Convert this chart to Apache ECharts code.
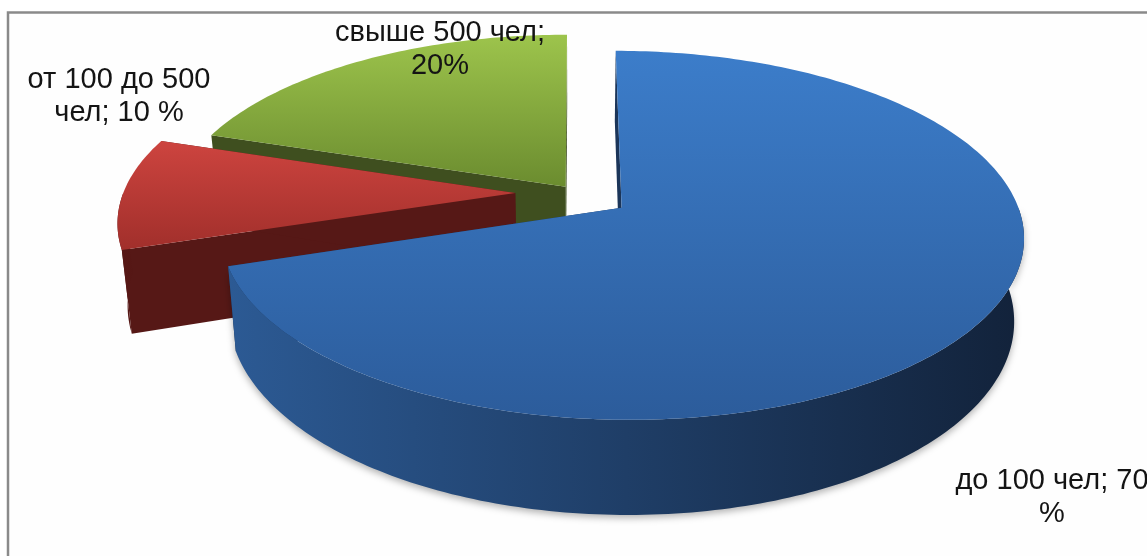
<!DOCTYPE html>
<html>
<head>
    <meta charset="utf-8">
    <title>3D pie</title>
    <script src="https://cdn.jsdelivr.net/npm/echarts@6/dist/echarts.min.js"></script>
    <style>
        html, body { margin: 0; padding: 0; background: #ffffff; }
        #chart { width: 1147px; height: 556px; }
    </style>
</head>
<body>
    <div id="chart"></div>
    <script type="text/javascript">
        // data
        const categories = ['до 100 чел', 'от 100 до 500 чел', 'свыше 500 чел'];
        const shares = [70, 10, 20];
        const labelTexts = ['до 100 чел; 70\n%', 'от 100 до 500\nчел; 10 %', 'свыше 500 чел;\n20%'];

        // layout of the fake 3d disc
        const cx = 576, cy = 193;      // disc centre
        const rx = 392, ry = 176;      // radii
        const depth = 80;              // thickness
        const persp = 0.147;           // near side looks bigger
        const bottomShrink = 0.978;    // bottom face is a bit farther away
        const explode = [0.142, 0.155, 0.045];
        const labelPos = [[1052, 497], [119, 96], [440, 49]];

        // colours: top face (light -> dark), outer wall (left -> right), cut wall
        const topColors = [['#3c7dca', '#2c5c9b'], ['#cd443f', '#a12f2b'], ['#9dc44c', '#6b8c2f']];
        const wallColors = [['#2c5a94', '#12223a'], ['#581816', '#551715'], ['#445623', '#3a4a1c']];
        const cutColors = ['#1b3559', '#561816', '#3f4f1f'];

        const total = shares.reduce((a, b) => a + b, 0);
        const starts = [];
        let acc = 0;
        shares.forEach(v => { starts.push(acc / total * Math.PI * 2); acc += v; });

        // depth rank: slices nearer the viewer are drawn later
        function apexV(i) {
            const mid = starts[i] + shares[i] / total * Math.PI;
            return -explode[i] * Math.cos(mid);
        }
        const order = shares.map((v, i) => i).sort((a, b) => apexV(a) - apexV(b));

        function renderItem(params, api) {
            const i = params.dataIndex;
            const a0 = starts[i];
            const a1 = a0 + api.value(0) / total * Math.PI * 2;
            const mid = (a0 + a1) / 2;
            const eu = explode[i] * Math.sin(mid);
            const ev = -explode[i] * Math.cos(mid);
            const rank = order.indexOf(i);

            function proj(t, r, bottom) {
                const U = eu + r * Math.sin(t);
                const V = ev - r * Math.cos(t);
                const s = 1 / (1 - persp * V);
                const k = bottom ? bottomShrink : 1;
                return [cx + rx * U * s * k, cy + ry * V * s + (bottom ? depth * s : 0)];
            }
            function arc(t0, t1, bottom) {
                const pts = [];
                const n = Math.max(2, Math.ceil((t1 - t0) / (Math.PI / 180)));
                for (let k = 0; k <= n; k++) pts.push(proj(t0 + (t1 - t0) * k / n, 1, bottom));
                return pts;
            }

            const children = [];
            // cut walls
            [a0, a1].forEach(t => {
                children.push({
                    type: 'polygon',
                    z2: rank * 10 + 1,
                    shape: { points: [proj(t, 0, false), proj(t, 1, false), proj(t, 1, true), proj(t, 0, true)] },
                    style: { fill: cutColors[i] }
                });
            });
            // outer wall, front half only
            const w0 = Math.max(a0, Math.PI / 2), w1 = Math.min(a1, Math.PI * 1.5);
            if (w1 > w0) {
                const pts = arc(w0, w1, false).concat(arc(w0, w1, true).reverse());
                const big = (w1 - w0) > Math.PI / 6;
                children.push({
                    type: 'polygon',
                    z2: rank * 10 + 2,
                    shape: { points: pts },
                    style: {
                        fill: new echarts.graphic.LinearGradient(1, 0, 0, 0, [
                            { offset: 0, color: wallColors[i][1] },
                            { offset: 1, color: wallColors[i][0] }
                        ]),
                        shadowBlur: big ? 7 : 0,
                        shadowOffsetY: big ? 3 : 0,
                        shadowColor: 'rgba(0,0,0,0.3)'
                    }
                });
            }
            // top face
            children.push({
                type: 'polygon',
                z2: rank * 10 + 3,
                shape: { points: [proj(0, 0, false)].concat(arc(a0, a1, false)) },
                style: {
                    fill: new echarts.graphic.LinearGradient(0, 0, 0, 1, [
                        { offset: 0, color: topColors[i][0] },
                        { offset: 1, color: topColors[i][1] }
                    ])
                }
            });
            // label
            children.push({
                type: 'text',
                z2: 100,
                style: {
                    text: labelTexts[i],
                    x: labelPos[i][0],
                    y: labelPos[i][1],
                    textAlign: 'center',
                    textVerticalAlign: 'middle',
                    align: 'center',
                    verticalAlign: 'middle',
                    font: '29px "Liberation Sans", Arial, sans-serif',
                    lineHeight: 33,
                    fill: '#141414'
                }
            });
            return { type: 'group', children: children };
        }

        const chart = echarts.init(document.getElementById('chart'));
        chart.setOption({
            backgroundColor: '#ffffff',
            animation: false,
            graphic: [{
                type: 'rect',
                shape: { x: 8, y: 12.5, width: 1300, height: 700 },
                style: { fill: '#fefefe', stroke: '#8a8a8a', lineWidth: 2.5 },
                z: -1
            }],
            series: [{
                type: 'custom',
                coordinateSystem: 'none',
                silent: true,
                renderItem: renderItem,
                data: shares.map((v, i) => ({ value: v, name: categories[i] }))
            }]
        });
    </script>
</body>
</html>
